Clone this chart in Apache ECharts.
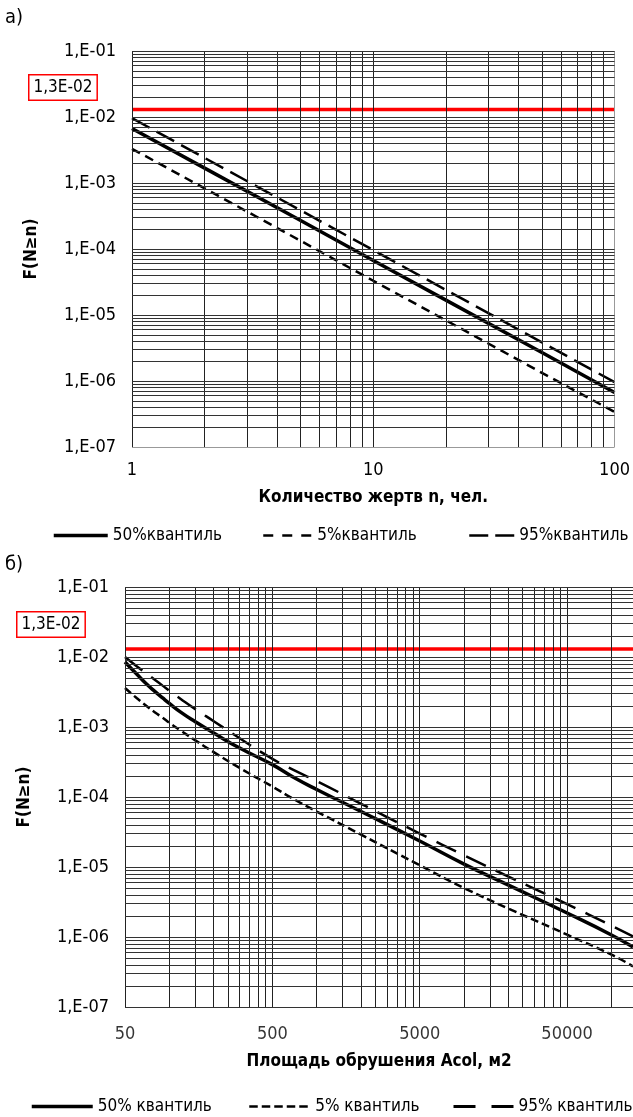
<!DOCTYPE html>
<html><head><meta charset="utf-8">
<script src="https://cdn.jsdelivr.net/npm/echarts@6/dist/echarts.min.js"></script>
<style>html,body{margin:0;padding:0;background:#fff}#c{width:633px;height:1117px}</style>
</head><body><div id="c"></div>
<script>
// ---- data: chart a) ----
const topN = [1, 2, 5, 10, 20, 50, 100];
const top50 = [6.7e-3, 1.68e-3, 2.7e-4, 6.7e-5, 1.68e-5, 2.7e-6, 6.7e-7];
const top5  = [3.3e-3, 8.3e-4, 1.33e-4, 3.3e-5, 8.3e-6, 1.33e-6, 3.4e-7];
const top95 = [9.6e-3, 2.4e-3, 3.85e-4, 9.6e-5, 2.4e-5, 3.85e-6, 9.6e-7];
const topNames = ['50%квантиль', '5%квантиль', '95%квантиль'];
// ---- data: chart б) ----
const botA  = [50, 60, 70, 80, 90, 100, 120, 150, 200, 300, 500, 700, 1000, 2000, 5000, 10000, 20000, 50000, 100000, 140000];
const bot50 = [8.5e-3, 5.7e-3, 4.1e-3, 3.2e-3, 2.6e-3, 2.17e-3, 1.62e-3, 1.19e-3, 8.2e-4, 5.0e-4, 2.9e-4, 1.9e-4, 1.28e-4, 6.2e-5, 2.35e-5, 1.1e-5, 5.5e-6, 2.2e-6, 1.07e-6, 7.2e-7];
const bot5  = [3.6e-3, 2.59e-3, 1.99e-3, 1.61e-3, 1.36e-3, 1.15e-3, 8.8e-4, 6.45e-4, 4.37e-4, 2.6e-4, 1.41e-4, 9.3e-5, 6.2e-5, 2.9e-5, 1.06e-5, 5.0e-6, 2.55e-6, 1.08e-6, 5.6e-7, 3.8e-7];
const bot95 = [1.0e-2, 7.4e-3, 5.8e-3, 4.7e-3, 3.9e-3, 3.3e-3, 2.5e-3, 1.8e-3, 1.21e-3, 6.9e-4, 3.5e-4, 2.42e-4, 1.69e-4, 8.0e-5, 3.0e-5, 1.47e-5, 7.3e-6, 2.95e-6, 1.45e-6, 1.02e-6];
const botNames = ['50% квантиль', '5% квантиль', '95% квантиль'];
// ---- limit ----
const limitValue = 0.013;
const limitLabel = '1,3E-02';
// ---- axes / ticks ----
const mantissas = [1, 2, 3, 4, 5, 6, 7, 8, 9];
const yDecades = [1e-7, 1e-6, 1e-5, 1e-4, 1e-3, 1e-2];
const yMin = 1e-7, yMax = 1e-1;
const topXDecades = [1, 10];
const topXMin = 1, topXMax = 100;
const botXDecades = [50, 500, 5000, 50000];
const botXMin = 50, botXMax = 140000;
const botXLabels = [50, 500, 5000, 50000];
const xTitleTop = 'Количество жертв n, чел.';
const xTitleBot = 'Площадь обрушения Acol, м2';
const yTitle = 'F(N≥n)';

const FONT = "'Liberation Sans Narrow','Arial Narrow','DejaVu Sans Condensed','Liberation Sans',sans-serif";

function expand(decades, max){
  const out = [];
  decades.forEach(d => mantissas.forEach(m => { const v = m * d; if (v <= max * 1.0001) out.push(v); }));
  out.push(max);
  return out;
}
function pairs(xs, ys){ return xs.map((x, i) => [x, ys[i]]); }
function expLabel(v){ const e = Math.round(Math.log10(v)); return '1,E-' + String(-e).padStart(2, '0'); }

const topXGrid = expand(topXDecades, topXMax);
const botXGrid = expand(botXDecades, botXMax).filter(v => v < botXMax);
const yGrid = expand(yDecades, yMax);

function gridSeries(xi, xs, ys, rightGrey){
  const data = [];
  xs.forEach(v => data.push({xAxis: v, lineStyle: {color: (rightGrey && v === xs[xs.length-1]) ? '#999' : '#222'}}));
  ys.forEach(v => data.push({yAxis: v, lineStyle: {color: (v === yMin && rightGrey) ? '#999' : '#333'}}));
  return {
    type: 'line', name: 'grid' + xi, xAxisIndex: xi, yAxisIndex: xi, data: [], z: 1,
    markLine: {silent: true, symbol: ['none', 'none'], label: {show: false}, animation: false, precision: 12,
      lineStyle: {width: 1, type: 'solid'}, data: data}
  };
}
function limitSeries(xi, xmin, xmax){
  return {
    type: 'line', name: 'limit' + xi, xAxisIndex: xi, yAxisIndex: xi, z: 2,
    data: [[xmin, limitValue], [xmax, limitValue]], symbol: 'none',
    lineStyle: {color: '#ff0000', width: 3.5}, silent: true
  };
}
function curve(xi, name, xs, ys, type, width, smooth){
  return {
    type: 'line', name: name, xAxisIndex: xi, yAxisIndex: xi, z: 3,
    data: pairs(xs, ys), symbol: 'none', smooth: smooth, silent: true, color: '#000',
    itemStyle: {color: '#000'},
    lineStyle: {color: '#000', width: width, type: type}
  };
}
const tickFont = {fontFamily: FONT, fontSize: 18, color: '#000'};
const titleFont = {fontFamily: FONT, fontSize: 17, fontWeight: 'bold', color: '#000'};
const legendFont = {fontFamily: FONT, fontSize: 17, color: '#000'};

function yAxisCfg(gi){
  return {type: 'log', gridIndex: gi, logBase: 10, min: yMin, max: yMax,
    axisLine: {show: false}, axisTick: {show: false}, splitLine: {show: false},
    axisLabel: Object.assign({formatter: expLabel, margin: 16}, tickFont),
    name: yTitle, nameLocation: 'middle', nameGap: 92, nameTextStyle: titleFont};
}
function legendCfg(name, left, top, width, ls){
  return {data: [name], left: left, top: top, itemWidth: width, itemHeight: 14, selectedMode: false,
    textStyle: legendFont, padding: 0, itemStyle: {opacity: 0}, lineStyle: Object.assign({color: '#000'}, ls)};
}

const chart = echarts.init(document.getElementById('c'), null, {renderer: 'canvas', width: 633, height: 1117});

const option = {
  animation: false,
  backgroundColor: '#fff',
  grid: [
    {left: 132, top: 51, right: 15, bottom: 670, containLabel: false},
    {left: 125, top: 587, right: 0, bottom: 110, containLabel: false}
  ],
  xAxis: [
    {type: 'log', gridIndex: 0, logBase: 10, min: topXMin, max: topXMax,
      axisLine: {show: false}, axisTick: {show: false}, splitLine: {show: false},
      axisLabel: Object.assign({margin: 14, formatter: v => String(Math.round(v))}, tickFont),
      name: xTitleTop, nameLocation: 'middle', nameGap: 42, nameTextStyle: titleFont},
    {type: 'log', gridIndex: 1, logBase: 10, min: botXMin, max: botXMax,
      axisLine: {show: false}, axisTick: {show: false}, splitLine: {show: false},
      axisLabel: {show: false},
      name: xTitleBot, nameLocation: 'middle', nameGap: 46, nameTextStyle: titleFont}
  ],
  yAxis: [yAxisCfg(0), yAxisCfg(1)],
  legend: [
    legendCfg(topNames[0], 52, 527, 54, {width: 3.5, type: 'solid'}),
    legendCfg(topNames[1], 262, 527, 49, {width: 2.5, type: [10, 9]}),
    legendCfg(topNames[2], 468, 527, 45, {width: 2.5, type: [19, 7]}),
    legendCfg(botNames[0], 30, 1098, 61, {width: 3.5, type: 'solid'}),
    legendCfg(botNames[1], 248, 1098, 61, {width: 2.5, type: [8.5, 4]}),
    legendCfg(botNames[2], 452, 1098, 60, {width: 3, type: [22, 16]})
  ],
  graphic: [
    {type: 'text', left: 5, top: 8, style: {text: 'а)', font: '20px ' + FONT, fill: '#000'}},
    {type: 'text', left: 5, top: 555, style: {text: 'б)', font: '20px ' + FONT, fill: '#000'}},
    {type: 'text', left: 28, top: 74, style: {text: limitLabel, font: '17px ' + FONT, fill: '#000',
      borderColor: '#ff0000', borderWidth: 1.5, padding: [4, 4, 3, 4], backgroundColor: '#fff'}},
    {type: 'text', left: 16, top: 611, style: {text: limitLabel, font: '17px ' + FONT, fill: '#000',
      borderColor: '#ff0000', borderWidth: 1.5, padding: [4, 4, 3, 4], backgroundColor: '#fff'}}
  ],
  series: [
    gridSeries(0, topXGrid, yGrid, true),
    limitSeries(0, topXMin, topXMax),
    curve(0, topNames[0], topN, top50, 'solid', 3.5, false),
    curve(0, topNames[1], topN, top5, [9, 6], 2.5, false),
    curve(0, topNames[2], topN, top95, [20, 8], 2.5, false),
    gridSeries(1, botXGrid, yGrid, false),
    limitSeries(1, botXMin, botXMax),
    curve(1, botNames[0], botA, bot50, 'solid', 3.5, true),
    curve(1, botNames[1], botA, bot5, [8, 4], 2.5, true),
    curve(1, botNames[2], botA, bot95, [22, 11], 2.5, true),
    {type: 'scatter', name: 'xlabels', xAxisIndex: 1, yAxisIndex: 1, symbolSize: 0, clip: false, silent: true,
      data: botXLabels.map(v => [v, yMin]),
      label: Object.assign({show: true, position: 'bottom', distance: 18, formatter: p => String(p.value[0])}, tickFont)}
  ]
};
chart.setOption(option);
</script></body></html>
